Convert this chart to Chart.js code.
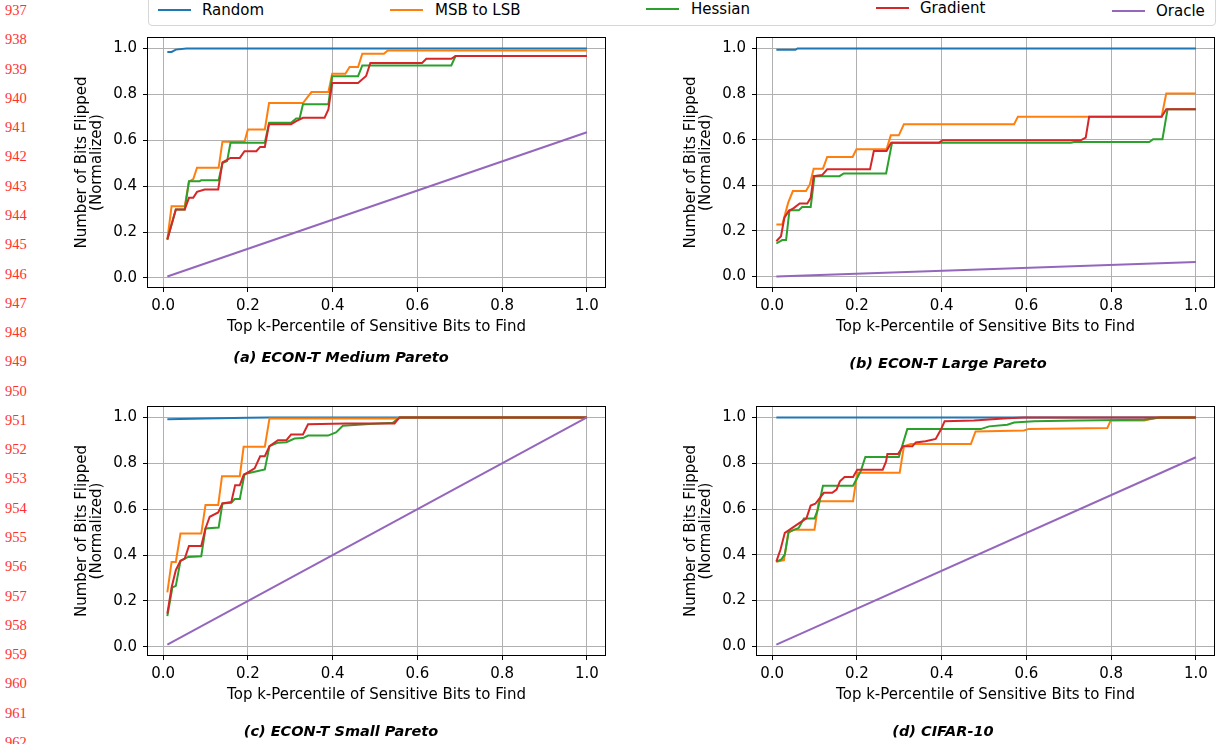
<!DOCTYPE html>
<html>
<head>
<meta charset="utf-8">
<title>Sensitive bit search</title>
<script src="https://cdn.jsdelivr.net/npm/chart.js@4.4.1/dist/chart.umd.min.js"></script>
<style>
  body { margin: 0; background: #fff; }
  #page { position: relative; width: 1217px; height: 744px; overflow: hidden; font-family: "DejaVu Sans", sans-serif; color: #000; }
  canvas { position: absolute; }
  .lineno { position: absolute; left: 5px; font: 14.5px/16px "Liberation Serif", serif; color: #ff3030; }
  .legend-box { position: absolute; left: 148px; top: -10px; width: 1066px; height: 34px; border: 1px solid #d6d6d6; border-radius: 4px; }
  .legend-line { position: absolute; width: 33px; height: 2px; }
  .legend-text { position: absolute; font-size: 15px; line-height: 18px; white-space: nowrap; }
  .caption { position: absolute; font: italic bold 14.5px/17px "DejaVu Sans", sans-serif; transform: translateX(-50%); white-space: nowrap; }
</style>
</head>
<body>
<div id="page">
  <div class="legend-box"></div>
  <canvas id="chart-a" width="560" height="330" style="left:60px;top:30px"></canvas>
  <canvas id="chart-b" width="548" height="330" style="left:669px;top:30px"></canvas>
  <canvas id="chart-c" width="560" height="330" style="left:60px;top:399px"></canvas>
  <canvas id="chart-d" width="548" height="330" style="left:669px;top:399px"></canvas>
</div>
<script>
const seriesNames = ['Random', 'MSB to LSB', 'Hessian', 'Gradient', 'Oracle'];
const seriesColors = ['#1f77b4', '#ff7f0e', '#2ca02c', '#d62728', '#9467bd'];
const tickValues = [0.0, 0.2, 0.4, 0.6, 0.8, 1.0];
const panelTitles = ['(a) ECON-T Medium Pareto', '(b) ECON-T Large Pareto', '(c) ECON-T Small Pareto', '(d) CIFAR-10'];
const xTitle = 'Top k-Percentile of Sensitive Bits to Find';
const yTitle = ['Number of Bits Flipped', '(Normalized)'];

// every series is a list of [k, fraction flipped] corners

// (a) ECON-T medium
const mediumRandom = [[0.01,0.985],[0.02,0.985],[0.03,0.995],[0.055,1.0],[1.0,1.0]];
const mediumMsb = [[0.01,0.167],[0.02,0.312],[0.051,0.312],[0.061,0.42],[0.071,0.43],[0.08,0.48],[0.131,0.48],[0.14,0.593],[0.192,0.593],[0.2,0.647],[0.24,0.647],[0.25,0.762],[0.33,0.762],[0.35,0.81],[0.39,0.81],[0.399,0.89],[0.43,0.89],[0.44,0.919],[0.46,0.919],[0.47,0.977],[0.521,0.977],[0.53,0.991],[1.0,0.991]];
const mediumHessian = [[0.01,0.167],[0.03,0.298],[0.051,0.298],[0.061,0.421],[0.086,0.421],[0.09,0.426],[0.131,0.426],[0.14,0.5],[0.151,0.509],[0.159,0.589],[0.24,0.589],[0.25,0.676],[0.302,0.676],[0.314,0.695],[0.322,0.695],[0.33,0.757],[0.39,0.757],[0.399,0.879],[0.46,0.879],[0.47,0.926],[0.68,0.926],[0.69,0.967],[1.0,0.967]];
const mediumGradient = [[0.01,0.167],[0.03,0.298],[0.051,0.298],[0.061,0.349],[0.071,0.349],[0.08,0.375],[0.098,0.385],[0.13,0.385],[0.14,0.504],[0.159,0.523],[0.181,0.523],[0.192,0.552],[0.22,0.552],[0.229,0.571],[0.24,0.571],[0.25,0.67],[0.302,0.67],[0.314,0.683],[0.33,0.698],[0.381,0.698],[0.39,0.734],[0.399,0.85],[0.46,0.85],[0.479,0.88],[0.489,0.937],[0.611,0.937],[0.621,0.955],[0.68,0.955],[0.69,0.967],[1.0,0.967]];
const mediumOracle = [[0.01,0.006],[1.0,0.635]];

// (b) ECON-T large
const largeRandom = [[0.01,0.994],[0.055,0.994],[0.06,1.0],[1.0,1.0]];
const largeMsb = [[0.01,0.228],[0.024,0.228],[0.038,0.324],[0.049,0.375],[0.08,0.375],[0.089,0.404],[0.098,0.473],[0.12,0.473],[0.13,0.524],[0.19,0.524],[0.199,0.558],[0.27,0.558],[0.28,0.619],[0.299,0.619],[0.311,0.668],[0.571,0.668],[0.58,0.701],[0.919,0.701],[0.93,0.802],[1.0,0.802]];
const largeHessian = [[0.01,0.145],[0.024,0.16],[0.033,0.16],[0.041,0.291],[0.063,0.291],[0.071,0.305],[0.091,0.305],[0.1,0.44],[0.159,0.44],[0.169,0.452],[0.269,0.452],[0.283,0.587],[0.705,0.587],[0.713,0.59],[0.89,0.59],[0.899,0.602],[0.921,0.602],[0.933,0.733],[1.0,0.733]];
const largeGradient = [[0.01,0.155],[0.021,0.177],[0.029,0.258],[0.039,0.287],[0.051,0.3],[0.065,0.32],[0.083,0.32],[0.091,0.345],[0.098,0.44],[0.118,0.445],[0.13,0.47],[0.231,0.47],[0.24,0.55],[0.27,0.55],[0.281,0.587],[0.394,0.587],[0.402,0.597],[0.728,0.597],[0.74,0.609],[0.748,0.7],[0.919,0.7],[0.93,0.733],[1.0,0.733]];
const largeOracle = [[0.01,0.0],[1.0,0.064]];

// (c) ECON-T small
const smallRandom = [[0.01,0.992],[0.1,0.996],[0.2,0.999],[0.25,1.0],[1.0,1.0]];
const smallMsb = [[0.01,0.237],[0.02,0.37],[0.03,0.37],[0.041,0.494],[0.09,0.494],[0.1,0.618],[0.13,0.618],[0.139,0.744],[0.181,0.744],[0.19,0.872],[0.24,0.872],[0.251,0.996],[0.55,0.996],[0.558,1.0],[1.0,1.0]];
const smallHessian = [[0.01,0.134],[0.022,0.259],[0.03,0.266],[0.041,0.375],[0.059,0.392],[0.09,0.395],[0.1,0.516],[0.131,0.52],[0.14,0.625],[0.161,0.628],[0.169,0.644],[0.181,0.644],[0.192,0.753],[0.216,0.763],[0.24,0.773],[0.251,0.875],[0.271,0.89],[0.291,0.892],[0.31,0.908],[0.33,0.91],[0.342,0.921],[0.389,0.921],[0.408,0.935],[0.424,0.964],[0.487,0.971],[0.542,0.977],[0.558,1.0],[1.0,1.0]];
const smallGradient = [[0.01,0.145],[0.02,0.259],[0.03,0.334],[0.041,0.375],[0.051,0.385],[0.061,0.44],[0.09,0.44],[0.1,0.516],[0.11,0.567],[0.13,0.586],[0.14,0.625],[0.161,0.632],[0.17,0.705],[0.181,0.705],[0.19,0.749],[0.216,0.778],[0.229,0.831],[0.24,0.831],[0.251,0.875],[0.271,0.901],[0.291,0.901],[0.302,0.926],[0.33,0.926],[0.342,0.97],[0.432,0.974],[0.546,0.974],[0.558,1.0],[1.0,1.0]];
const smallOracle = [[0.01,0.01],[1.0,1.0]];

// (d) CIFAR-10
const cifarRandom = [[0.01,1.0],[1.0,1.0]];
const cifarMsb = [[0.01,0.37],[0.028,0.377],[0.038,0.496],[0.051,0.51],[0.1,0.51],[0.11,0.634],[0.191,0.634],[0.201,0.758],[0.301,0.758],[0.311,0.874],[0.327,0.884],[0.469,0.884],[0.48,0.939],[0.594,0.943],[0.606,0.95],[0.791,0.954],[0.799,0.987],[0.878,0.987],[0.909,1.0],[1.0,1.0]];
const cifarHessian = [[0.01,0.37],[0.022,0.38],[0.03,0.402],[0.039,0.499],[0.063,0.518],[0.075,0.559],[0.1,0.559],[0.108,0.598],[0.12,0.702],[0.191,0.702],[0.209,0.765],[0.22,0.827],[0.299,0.827],[0.319,0.949],[0.492,0.949],[0.512,0.961],[0.555,0.968],[0.571,0.978],[0.618,0.983],[0.72,0.987],[0.878,0.99],[0.917,1.0],[1.0,1.0]];
const cifarGradient = [[0.01,0.37],[0.02,0.424],[0.03,0.496],[0.039,0.507],[0.063,0.537],[0.081,0.559],[0.091,0.615],[0.102,0.623],[0.122,0.671],[0.142,0.671],[0.152,0.685],[0.16,0.721],[0.171,0.74],[0.191,0.74],[0.201,0.772],[0.261,0.772],[0.269,0.808],[0.272,0.84],[0.297,0.84],[0.309,0.874],[0.331,0.874],[0.339,0.891],[0.362,0.896],[0.386,0.906],[0.398,0.946],[0.407,0.983],[0.476,0.987],[0.555,0.997],[0.594,1.0],[1.0,1.0]];
const cifarOracle = [[0.01,0.008],[1.0,0.826]];

// layout of the four subplots (canvas geometry, axis limits, caption spot)
const panels = [
  { canvas: 'chart-a', series: [mediumRandom, mediumMsb, mediumHessian, mediumGradient, mediumOracle], yMin: -0.044, padRight: 14, xAxisH: 72, cap: [341, 357] },
  { canvas: 'chart-b', series: [largeRandom, largeMsb, largeHessian, largeGradient, largeOracle], yMin: -0.05, padRight: 2, xAxisH: 72, cap: [948, 363] },
  { canvas: 'chart-c', series: [smallRandom, smallMsb, smallHessian, smallGradient, smallOracle], yMin: -0.04, padRight: 14, xAxisH: 73, cap: [341, 731] },
  { canvas: 'chart-d', series: [cifarRandom, cifarMsb, cifarHessian, cifarGradient, cifarOracle], yMin: -0.042, padRight: 2, xAxisH: 73, cap: [943, 731] },
];

// legend positions: [line x, text x, centre y]
const legendSpots = [[158, 202, 10], [390, 435, 10], [646, 691, 9], [876, 920, 8], [1112, 1156, 10.5]];

Chart.defaults.font.family = 'DejaVu Sans';
Chart.defaults.font.size = 15;
Chart.defaults.color = '#000';

// matplotlib style frame around the plot area
const frameBox = {
  id: 'frameBox',
  afterDatasetsDraw(chart) {
    const { ctx, chartArea: a } = chart;
    ctx.save();
    ctx.strokeStyle = '#000';
    ctx.lineWidth = 1;
    ctx.strokeRect(a.left + 0.5, a.top + 0.5, a.right - a.left - 1, a.bottom - a.top - 1);
    ctx.restore();
  }
};

const page = document.getElementById('page');

function addDiv(cls, text, style) {
  const el = document.createElement('div');
  el.className = cls;
  if (text) el.textContent = text;
  Object.assign(el.style, style);
  page.appendChild(el);
  return el;
}

// line numbers down the left margin
for (let n = 937; n <= 962; n++) {
  addDiv('lineno', String(n), { top: (10 + (n - 937) * 29.28 - 8) + 'px' });
}

// shared legend
seriesNames.forEach((name, i) => {
  const [lx, tx, cy] = legendSpots[i];
  addDiv('legend-line', '', { left: lx + 'px', top: (cy - 1) + 'px', background: seriesColors[i] });
  addDiv('legend-text', name, { left: tx + 'px', top: (cy - 8.75) + 'px' });
});

function setTicks(scale) {
  scale.ticks = tickValues.map(v => ({ value: v }));
}

// pin axis sizes so the plot boxes land where the reference has them
function fixX(h) {
  return s => { s.height = h; s.paddingLeft = 0; s.paddingRight = 0; };
}
function fixY(s) {
  s.width = 87; s.paddingTop = 0; s.paddingBottom = 0;
}

panels.forEach((p, idx) => {
  new Chart(document.getElementById(p.canvas), {
    type: 'line',
    data: {
      datasets: p.series.map((pts, i) => ({
        label: seriesNames[i],
        data: pts.map(pt => ({ x: pt[0], y: pt[1] })),
        borderColor: seriesColors[i],
        borderWidth: 2,
        pointRadius: 0,
        fill: false,
        tension: 0,
        order: seriesNames.length - i
      }))
    },
    options: {
      responsive: false,
      animation: false,
      layout: { padding: { top: 7, right: p.padRight, left: 0, bottom: 0 } },
      plugins: { legend: { display: false }, tooltip: { enabled: false } },
      scales: {
        x: {
          type: 'linear',
          min: -0.038,
          max: 1.045,
          afterBuildTicks: setTicks,
          afterFit: fixX(p.xAxisH),
          border: { display: false },
          grid: { color: '#b0b0b0', lineWidth: 1, tickColor: '#000', tickLength: 4 },
          ticks: { padding: 5, maxRotation: 0, callback: v => v.toFixed(1) },
          title: { display: true, text: xTitle, font: { size: 15, lineHeight: 1.2 }, padding: { top: 0, bottom: p.xAxisH - 48 } }
        },
        y: {
          type: 'linear',
          min: p.yMin,
          max: 1.05,
          afterBuildTicks: setTicks,
          afterFit: fixY,
          border: { display: false },
          grid: { color: '#b0b0b0', lineWidth: 1, tickColor: '#000', tickLength: 4 },
          ticks: { padding: 6, callback: v => v.toFixed(1) },
          title: { display: true, text: yTitle, font: { size: 15, lineHeight: 1.04 }, padding: { top: 14, bottom: 0 } }
        }
      }
    },
    plugins: [frameBox]
  });

  addDiv('caption', panelTitles[idx], { left: p.cap[0] + 'px', top: (p.cap[1] - 8.5) + 'px' });
});
</script>
</body>
</html>
